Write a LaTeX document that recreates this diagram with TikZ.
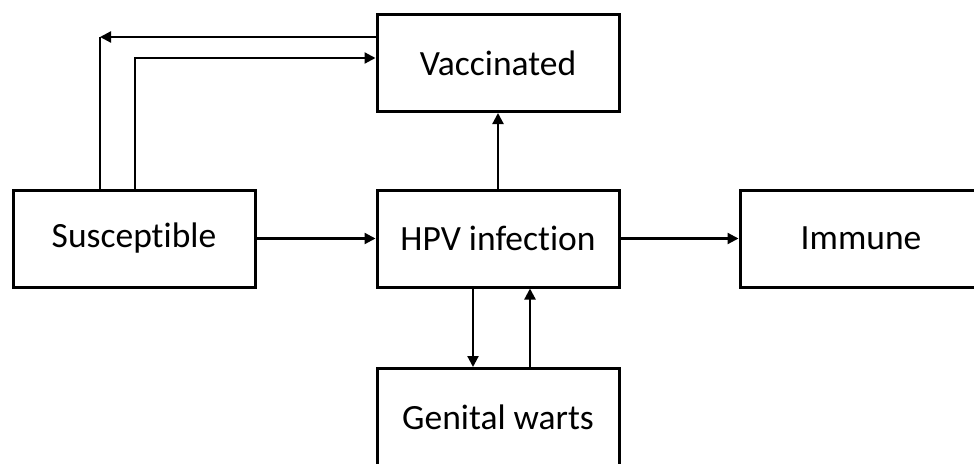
\documentclass[tikz,border=0pt]{standalone}
\usepackage{fontspec}
\setmainfont[Ligatures=NoCommon]{Carlito}
\usetikzlibrary{arrows.meta}
\tikzset{
  box/.style={draw=black, line width=3pt, fill=white, minimum width=242pt, minimum height=97pt, inner sep=0pt, font=\fontsize{35.5}{42}\selectfont},
  conn/.style={draw=black, line width=2.2pt},
  arr/.style={conn, -{Triangle[length=11pt,width=11pt]}}
}
\begin{document}
\begin{tikzpicture}[x=1pt,y=-1pt]
\useasboundingbox (0,0) rectangle (974,463);
\clip (0,0) rectangle (974,463);
\node[box] (vac) at (498,63) {Vaccinated};
\node[box] (sus) at (134,238.5) {Susceptible};
\node[box] (hpv) at (498,238.5) {HPV infection};
\node[box] (imm) at (861,238.5) {Immune};
\node[box] (gw) at (498,417) {Genital warts};
\coordinate (k1) at (100,37);
\coordinate (k2) at (135,58);
\coordinate (xa) at (473,0);
\coordinate (xb) at (530,0);
\draw[arr] (vac.west |- k1) -- (k1);
\draw[conn] (sus.north -| k1) -- (k1);
\draw[arr] (sus.north -| k2) |- (vac.west |- k2);
\draw[arr] (hpv.north) -- (vac.south);
\draw[arr] (sus.east) -- (hpv.west);
\draw[arr] (hpv.east) -- (imm.west);
\draw[arr] (hpv.south -| xa) -- (gw.north -| xa);
\draw[arr] (gw.north -| xb) -- (hpv.south -| xb);
\end{tikzpicture}
\end{document}
